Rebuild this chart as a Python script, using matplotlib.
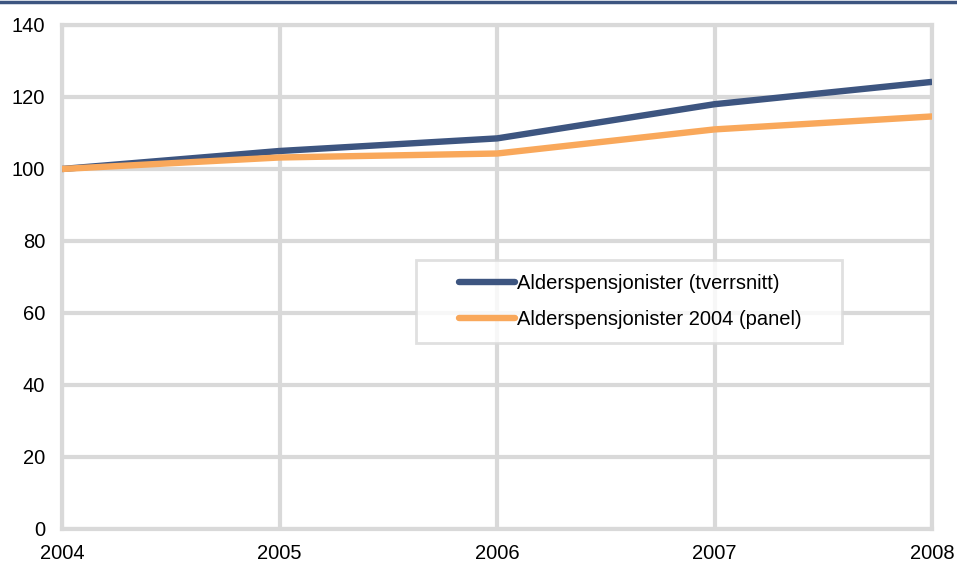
import matplotlib.pyplot as plt
from matplotlib.lines import Line2D

# index values, 2004 = 100
years = [2004, 2005, 2006, 2007, 2008]
tverrsnitt = [100, 105.0, 108.5, 118.0, 124.2]
panel = [100, 103.2, 104.3, 111.0, 114.6]
labels = ['Alderspensjonister (tverrsnitt)', 'Alderspensjonister 2004 (panel)']

plt.rcParams['font.family'] = ['Liberation Sans', 'DejaVu Sans']

fig = plt.figure(figsize=(9.57, 5.63), dpi=100)
ax = fig.add_axes([0.0648, 0.0604, 0.9092, 0.8952])

grey = '#d9d9d9'
ax.plot(years, tverrsnitt, color='#3d5580', lw=4.6, label=labels[0], solid_capstyle='butt', zorder=3)
ax.plot(years, panel, color='#f9a85b', lw=4.6, label=labels[1], solid_capstyle='butt', zorder=3)

ax.set_xlim(2004, 2008)
ax.set_ylim(0, 140)
ax.set_xticks(years)
ax.set_yticks(range(0, 141, 20))
ax.grid(True, color=grey, lw=3)
ax.set_axisbelow(True)
for s in ax.spines.values():
    s.set_color(grey)
    s.set_linewidth(3)
ax.tick_params(length=0, labelsize=14.5, pad=12)
ax.tick_params(axis='x', pad=11)

# legend box spans x 416..842 px, top at 260 px
leg = ax.legend(loc='upper left', bbox_to_anchor=(0.4347, 0.30, 0.4451, 0.2382),
                bbox_transform=fig.transFigure, mode='expand',
                fontsize=14.5, frameon=True, fancybox=False, handlelength=4.23, handletextpad=0.1,
                borderpad=0.68, labelspacing=0.88, borderaxespad=0)
leg.get_frame().set_edgecolor(grey)
leg.get_frame().set_linewidth(2)
# legend keys start some way in from the box edge, as in the source
for h in leg.get_lines():
    x = h.get_xdata()
    y = h.get_ydata()
    h.set_data([x[0] + 0.34 * (x[-1] - x[0]), x[-1]], [y[0], y[0]])
    h.set_solid_capstyle('round')

fig.add_artist(Line2D([0, 1], [0.9965, 0.9965], color='#3d5580', lw=2.5, transform=fig.transFigure))

fig.savefig('out.png', dpi=100)
